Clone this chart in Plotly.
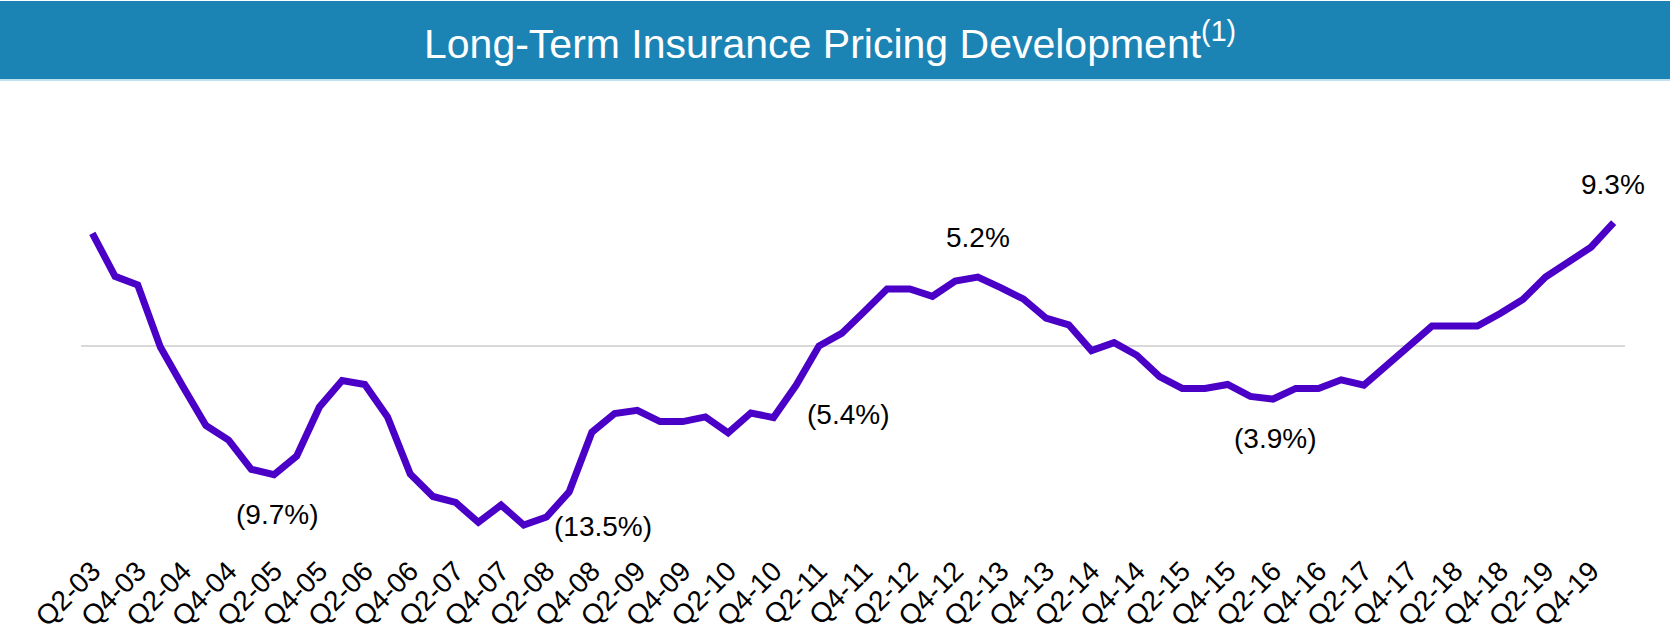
import plotly.graph_objects as go

# ---------------- data ----------------
quarters = []
for yr in range(3, 21):
    for q in range(1, 5):
        quarters.append(f"Q{q}-{yr:02d}")
quarters = quarters[quarters.index("Q2-03"):quarters.index("Q1-20") + 1]

pricing_change = [
    8.5, 5.25, 4.6, -0.1, -3.1, -6.0, -7.1, -9.3, -9.7, -8.3,
    -4.6, -2.6, -2.9, -5.35, -9.65, -11.35, -11.8, -13.3, -12.0, -13.5,
    -12.9, -11.0, -6.5, -5.1, -4.85, -5.7, -5.7, -5.35, -6.55, -5.05,
    -5.4, -2.95, 0.0, 0.95, 2.6, 4.3, 4.3, 3.75, 4.9, 5.2,
    4.4, 3.55, 2.1, 1.6, -0.35, 0.25, -0.7, -2.3, -3.2, -3.2,
    -2.9, -3.8, -4.0, -3.2, -3.2, -2.55, -2.95, -1.5, 0.0, 1.5,
    1.5, 1.5, 2.45, 3.5, 5.2, 6.4, 7.45, 9.3,
]

tick_labels = quarters[0:67:2]  # Q2-03, Q4-03, ... Q4-19

# labelled points: (quarter, text, xshift px, yshift px)
label_quarters = ["Q2-05", "Q1-08", "Q4-10", "Q1-13", "Q2-16", "Q1-20"]
label_texts = ["(9.7%)", "(13.5%)", "(5.4%)", "5.2%", "(3.9%)", "9.3%"]
label_xshift = [3, 79, 74, 0, 2, -1]
label_yshift = [-40, -1, 3, 40, -39, 38]

title_text = "Long-Term Insurance Pricing Development<sup>(1)</sup>"

# ---------------- layout geometry ----------------
W, H = 1673, 642
PL, PR, PT, PB = 81, 1625, 150, 548
ZERO_PX, PX_PER_PCT = 346, 13.26
y_top = (ZERO_PX - PT) / PX_PER_PCT
y_bot = -(PB - ZERO_PX) / PX_PER_PCT


def px_x(p):
    return (p - PL) / (PR - PL)


def px_y(p):
    return (PB - p) / (PB - PT)


FONT = "Liberation Sans, Arial, sans-serif"
LINE_COLOR = "#4A00C6"
BAR_COLOR = "#1C84B5"

fig = go.Figure()
fig.add_trace(go.Scatter(
    x=quarters, y=pricing_change, mode="lines",
    line=dict(color=LINE_COLOR, width=7),
    hoverinfo="skip", showlegend=False,
))

for q, t, dx, dy in zip(label_quarters, label_texts, label_xshift, label_yshift):
    fig.add_annotation(
        x=q, y=pricing_change[quarters.index(q)], text=t, showarrow=False,
        xshift=dx, yshift=dy, xanchor="center", yanchor="middle",
        font=dict(family=FONT, size=28, color="#000000"),
    )

# title bar
fig.add_shape(type="rect", xref="paper", yref="paper",
              x0=px_x(0), x1=px_x(W - 3), y0=px_y(79), y1=px_y(1),
              fillcolor=BAR_COLOR, line=dict(width=0), layer="below")
fig.add_shape(type="rect", xref="paper", yref="paper",
              x0=px_x(0), x1=px_x(W - 3), y0=px_y(81), y1=px_y(79),
              fillcolor="#BEE2F1", line=dict(width=0), layer="below")
fig.add_annotation(
    xref="paper", yref="paper", x=px_x(830), y=px_y(41),
    text=title_text, showarrow=False, xanchor="center", yanchor="middle",
    font=dict(family=FONT, size=41, color="#FFFFFF"),
)

fig.update_layout(
    template="none",
    width=W, height=H,
    margin=dict(l=PL, r=W - PR, t=PT, b=H - PB, pad=0, autoexpand=False),
    paper_bgcolor="#FFFFFF", plot_bgcolor="#FFFFFF",
    showlegend=False, hovermode=False,
    xaxis=dict(
        type="category", range=[-0.5, len(quarters) - 0.5],
        tickmode="array", tickvals=tick_labels, ticktext=tick_labels,
        tickangle=-45, ticks="", showline=False, showgrid=False,
        zeroline=False, automargin=False,
        tickfont=dict(family=FONT, size=28, color="#000000"),
    ),
    yaxis=dict(
        range=[y_bot, y_top], showticklabels=False, ticks="",
        showgrid=False, showline=False, automargin=False,
        zeroline=True, zerolinecolor="#D9D9D9", zerolinewidth=2,
    ),
)

fig.write_html(
    "out.html",
    config={"displayModeBar": False},
    post_script="document.body.style.margin='0';document.body.style.padding='0';",
)
